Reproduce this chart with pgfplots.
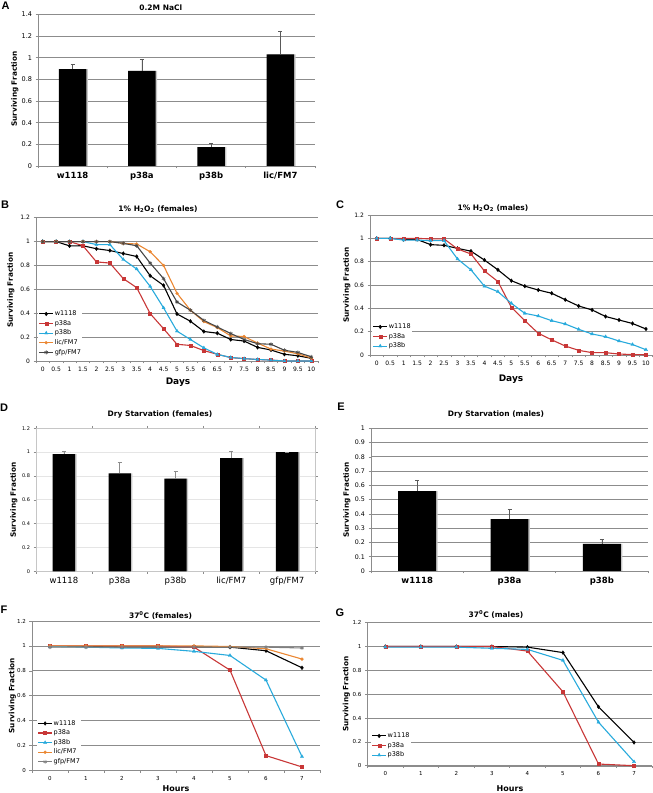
\documentclass[border=0pt]{standalone}
\usepackage{pgfplots}
\usepackage{pgfplotstable}
\pgfplotsset{compat=1.18}
\usepackage{fontspec}
\setmainfont{DejaVu Sans}
\newfontfamily\letterfont{Liberation Sans}
\definecolor{cred}{RGB}{200,55,55}
\definecolor{ccyan}{RGB}{40,170,220}
\definecolor{corange}{RGB}{235,135,50}
\definecolor{cgrid}{RGB}{140,140,140}
\definecolor{cgfp}{RGB}{70,70,70}

\pgfplotsset{
  base/.style={scale only axis, axis lines*=left, axis line style={cgrid},
    tick align=outside, tick style={cgrid, line width=0.5pt},
    major tick length=2.5pt, minor tick length=2.5pt,
    ymajorgrids, grid style={cgrid, line width=0.7pt},
    /pgf/number format/assume math mode=true,
    ticklabel style={font=\fontsize{6}{7}\selectfont, text=black},
    major x tick style={draw=none}, clip=false},
  ln/.style={line width=1.1pt, mark size=1.6pt, mark options={solid, line width=0.3pt}},
  mylegend/.style={legend cell align=left,
    legend style={draw=none, fill=white, inner sep=0.5pt,
      font=\fontsize{6.5}{7}\selectfont,
      nodes={inner sep=1pt, text height=5pt, text depth=1.5pt}, row sep=1.1pt},
    legend image code/.code={\draw[mark repeat=2,mark phase=2,##1] plot coordinates {(0pt,0pt) (7pt,0pt) (14pt,0pt)};}},
}

\pgfplotstableread{
x w a b lic gfp
0 1 1 1 1 1
0.5 1 1 1 1 1
1 0.964 1 1 1 1
1.5 0.965 0.965 1 1 1
2 0.94 0.83 0.975 1 1
2.5 0.925 0.82 0.975 1 1
3 0.90 0.69 0.85 0.985 0.985
3.5 0.875 0.614 0.77 0.98 0.965
4 0.714 0.397 0.625 0.915 0.82
4.5 0.633 0.27 0.445 0.80 0.69
5 0.394 0.14 0.25 0.567 0.494
5.5 0.333 0.13 0.18 0.425 0.425
6 0.247 0.087 0.11 0.33 0.34
6.5 0.233 0.056 0.055 0.28 0.285
7 0.18 0.028 0.03 0.21 0.23
7.5 0.167 0.02 0.02 0.205 0.18
8 0.114 0.012 0.013 0.15 0.145
8.5 0.092 0.008 0.007 0.10 0.14
9 0.056 0 0 0.083 0.09
9.5 0.044 0 0 0.06 0.072
10 0.022 0 0 0.025 0.035
}\Btab

\pgfplotstableread{
x w a b
0 1 1 1
0.5 1 1 1
1 0.99 1 0.985
1.5 0.99 1 0.985
2 0.946 0.995 0.98
2.5 0.94 0.995 0.98
3 0.914 0.909 0.823
3.5 0.89 0.866 0.73
4 0.814 0.72 0.59
4.5 0.73 0.63 0.543
5 0.637 0.409 0.443
5.5 0.59 0.294 0.357
6 0.557 0.186 0.334
6.5 0.529 0.13 0.294
7 0.474 0.077 0.266
7.5 0.42 0.04 0.22
8 0.386 0.02 0.18
8.5 0.33 0.02 0.157
9 0.30 0.008 0.12
9.5 0.27 0.004 0.09
10 0.223 0.002 0.045
}\Ctab

\pgfplotstableread{
x w a b lic gfp
0 0.995 1 0.995 1 0.99
1 0.995 1 0.99 1 0.99
2 0.99 1 0.983 1 0.99
3 0.99 1 0.98 1 0.99
4 0.99 0.99 0.956 1 0.99
5 0.99 0.805 0.923 0.995 0.99
6 0.961 0.118 0.725 0.977 0.99
7 0.824 0.027 0.11 0.894 0.983
}\Ftab

\pgfplotstableread{
x w a b
0 1 1 0.995
1 1 1 0.995
2 1 1 0.995
3 1 1 0.985
4 0.995 0.962 0.976
5 0.949 0.62 0.884
6 0.494 0.014 0.365
7 0.195 0.0 0.033
}\Gtab

\begin{document}
\begin{tikzpicture}[x=1pt,y=1pt]
\path[use as bounding box] (0,0) rectangle (653,793);

% ---------------- A ----------------
\begin{axis}[base, at={(38pt,627pt)}, anchor=south west, width=277pt, height=151.7pt,
  xmin=-0.5, xmax=3.5, ymin=0, ymax=1.4,
  ytick={0,0.2,0.4,0.6,0.8,1,1.2,1.4},
  xtick={0,1,2,3}, xticklabels={w1118,p38a,p38b,lic/FM7},
  minor xtick={-0.5,0.5,1.5,2.5,3.5},
  xticklabel style={font=\bfseries\fontsize{8.5}{10}\selectfont},
  yticklabel style={font=\fontsize{6.5}{7}\selectfont}]
\addplot[ybar, bar width=0.4, bar shift=1.5pt, fill=gray!45, draw=none] coordinates {(0,0.895) (1,0.877) (2,0.175) (3,1.031)};
\addplot[ybar, bar width=0.4, bar shift=0pt, fill=black, draw=none,
  error bars/.cd, y dir=plus, y explicit, error bar style={black!65, line width=0.6pt}]
  coordinates {(0,0.895) +- (0,0.043) (1,0.877) +- (0,0.108) (2,0.175) +- (0,0.031) (3,1.031) +- (0,0.215)};
\end{axis}

% ---------------- B ----------------
\begin{axis}[base, at={(36pt,432pt)}, anchor=south west, width=282pt, height=143.3pt,
  xmin=-0.25, xmax=10.25, ymin=0, ymax=1.2,
  ytick={0,0.2,0.4,0.6,0.8,1,1.2},
  xtick={0,0.5,...,10}, minor xtick={-0.25,0.25,...,10.25},
  mylegend, legend style={at={(0.007,0.363)}, anchor=north west}]
\addplot[ln, black, mark=diamond*, mark size=1.9pt] table[x=x,y=w] {\Btab};
\addplot[ln, cred, mark=square*, mark size=1.5pt] table[x=x,y=a] {\Btab};
\addplot[ln, ccyan, mark=triangle*, mark size=1.9pt] table[x=x,y=b] {\Btab};
\addplot[ln, corange, mark=*, mark size=1.5pt] table[x=x,y=lic] {\Btab};
\addplot[ln, cgfp, mark=asterisk, mark size=2pt, mark options={solid, line width=0.6pt}] table[x=x,y=gfp] {\Btab};
\legend{w1118,p38a,p38b,lic/FM7,gfp/FM7}
\end{axis}

% ---------------- C ----------------
\begin{axis}[base, at={(370pt,438pt)}, anchor=south west, width=282.7pt, height=140pt,
  xmin=-0.25, xmax=10.25, ymin=0, ymax=1.2,
  ytick={0,0.2,0.4,0.6,0.8,1,1.2},
  xtick={0,0.5,...,10}, minor xtick={-0.25,0.25,...,10.25},
  mylegend, legend style={at={(0.007,0.236)}, anchor=north west}]
\addplot[ln, black, mark=diamond*, mark size=1.9pt] table[x=x,y=w] {\Ctab};
\addplot[ln, cred, mark=square*, mark size=1.5pt] table[x=x,y=a] {\Ctab};
\addplot[ln, ccyan, mark=triangle*, mark size=1.9pt] table[x=x,y=b] {\Ctab};
\legend{w1118,p38a,p38b}
\end{axis}

% ---------------- D ----------------
\begin{axis}[base, axis lines=box, axis line style={gray!45}, grid style={gray!20, line width=0.7pt},
  at={(36pt,221.7pt)}, anchor=south west, width=279pt, height=143pt,
  xmin=-0.5, xmax=4.5, ymin=0, ymax=1.2,
  ytick={0,0.2,0.4,0.6,0.8,1,1.2},
  xtick={0,1,2,3,4}, xticklabels={w1118,p38a,p38b,lic/FM7,gfp/FM7},
  minor xtick={-0.5,0.5,1.5,2.5,3.5,4.5},
  xticklabel style={font=\fontsize{8.5}{10}\selectfont},
  yticklabel style={font=\fontsize{5}{6}\selectfont}]
\addplot[ybar, bar width=0.4, bar shift=1.5pt, fill=gray!45, draw=none] coordinates {(0,0.983) (1,0.822) (2,0.778) (3,0.95) (4,1.0)};
\addplot[ybar, bar width=0.4, bar shift=0pt, fill=black, draw=none,
  error bars/.cd, y dir=plus, y explicit, error bar style={black!45, line width=0.6pt}]
  coordinates {(0,0.983) +- (0,0.028) (1,0.822) +- (0,0.091) (2,0.778) +- (0,0.061) (3,0.95) +- (0,0.061) (4,1.0) +- (0,0.003)};
\end{axis}

% ---------------- E ----------------
\begin{axis}[base, at={(371pt,222pt)}, anchor=south west, width=277pt, height=142.7pt,
  xmin=-0.5, xmax=2.5, ymin=0, ymax=1,
  ytick={0,0.1,0.2,0.3,0.4,0.5,0.6,0.7,0.8,0.9,1},
  xtick={0,1,2}, xticklabels={w1118,p38a,p38b},
  minor xtick={-0.5,0.5,1.5,2.5},
  xticklabel style={font=\bfseries\fontsize{8.5}{10}\selectfont},
  yticklabel style={font=\fontsize{6.3}{7}\selectfont}]
\addplot[ybar, bar width=0.41, bar shift=1.5pt, fill=gray!45, draw=none] coordinates {(0,0.56) (1,0.364) (2,0.19)};
\addplot[ybar, bar width=0.41, bar shift=0pt, fill=black, draw=none,
  error bars/.cd, y dir=plus, y explicit, error bar style={black!65, line width=0.6pt}]
  coordinates {(0,0.56) +- (0,0.075) (1,0.364) +- (0,0.068) (2,0.19) +- (0,0.032)};
\end{axis}

% ---------------- F ----------------
\begin{axis}[base, at={(32pt,22.7pt)}, anchor=south west, width=288pt, height=149.3pt,
  xmin=-0.5, xmax=7.5, ymin=0, ymax=1.2,
  ytick={0,0.2,0.4,0.6,0.8,1,1.2},
  xtick={0,1,...,7}, minor xtick={-0.5,0.5,...,7.5},
  ticklabel style={font=\fontsize{5.5}{6.5}\selectfont},
  mylegend, legend style={at={(0.017,0.347)}, anchor=north west}]
\addplot[ln, black, mark=diamond*, mark size=1.9pt] table[x=x,y=w] {\Ftab};
\addplot[ln, cred, mark=square*, mark size=1.5pt] table[x=x,y=a] {\Ftab};
\addplot[ln, ccyan, mark=triangle*, mark size=1.9pt] table[x=x,y=b] {\Ftab};
\addplot[ln, corange, mark=*, mark size=1.5pt] table[x=x,y=lic] {\Ftab};
\addplot[ln, gray, mark=asterisk, mark size=2pt, mark options={solid, line width=0.6pt}] table[x=x,y=gfp] {\Ftab};
\legend{w1118,p38a,p38b,lic/FM7,gfp/FM7}
\end{axis}

% ---------------- G ----------------
\begin{axis}[base, at={(367.5pt,27.3pt)}, anchor=south west, width=284.3pt, height=143pt,
  xmin=-0.5, xmax=7.5, ymin=0, ymax=1.2,
  ytick={0,0.2,0.4,0.6,0.8,1,1.2},
  xtick={0,1,...,7}, minor xtick={-0.5,0.5,...,7.5},
  ticklabel style={font=\fontsize{5.5}{6.5}\selectfont},
  mylegend, legend style={at={(0.012,0.243)}, anchor=north west}]
\addplot[ln, black, mark=diamond*, mark size=1.9pt] table[x=x,y=w] {\Gtab};
\addplot[ln, cred, mark=square*, mark size=1.5pt] table[x=x,y=a] {\Gtab};
\addplot[ln, ccyan, mark=triangle*, mark size=1.9pt] table[x=x,y=b] {\Gtab};
\legend{w1118,p38a,p38b}
\end{axis}

% ---------------- texts ----------------
\tikzset{lett/.style={font=\letterfont\bfseries\fontsize{11}{12}\selectfont},
  ttl/.style={font=\bfseries\fontsize{7.5}{9}\selectfont},
  yl/.style={font=\bfseries\fontsize{7.3}{9}\selectfont, rotate=90},
  xl/.style={font=\bfseries\fontsize{9}{10}\selectfont}}
\node[lett] at (5.5,787) {A};
\node[ttl] at (160.8,785) {0.2M NaCl};
\node[yl] at (15,704) {Surviving Fraction};

\node[lett] at (5,588) {B};
\node[ttl] at (158,584) {1\% H\textsubscript{2}O\textsubscript{2} (females)};
\node[yl] at (11,503) {Surviving Fraction};
\node[xl] at (178,411) {Days};

\node[lett] at (340,588) {C};
\node[ttl] at (493,584.7) {1\% H\textsubscript{2}O\textsubscript{2} (males)};
\node[yl] at (347,508) {Surviving Fraction};
\node[xl] at (511,414) {Days};

\node[lett] at (4,385) {D};
\node[ttl] at (160,379) {Dry Starvation (females)};
\node[yl] at (14,293) {Surviving Fraction};

\node[lett] at (341,386) {E};
\node[ttl] at (496,379) {Dry Starvation (males)};
\node[yl] at (347,293) {Surviving Fraction};

\node[lett] at (4,183) {F};
\node[ttl] at (160.5,177) {37\textsuperscript{0}C (females)};
\node[yl] at (12.5,97.3) {Surviving Fraction};
\node[xl, font=\bfseries\fontsize{8}{9}\selectfont] at (176,4.5) {Hours};

\node[lett] at (340,180) {G};
\node[ttl] at (496,178) {37\textsuperscript{0}C (males)};
\node[yl] at (346.5,99) {Surviving Fraction};
\node[xl, font=\bfseries\fontsize{8}{9}\selectfont] at (510,4.5) {Hours};
\end{tikzpicture}
\end{document}
